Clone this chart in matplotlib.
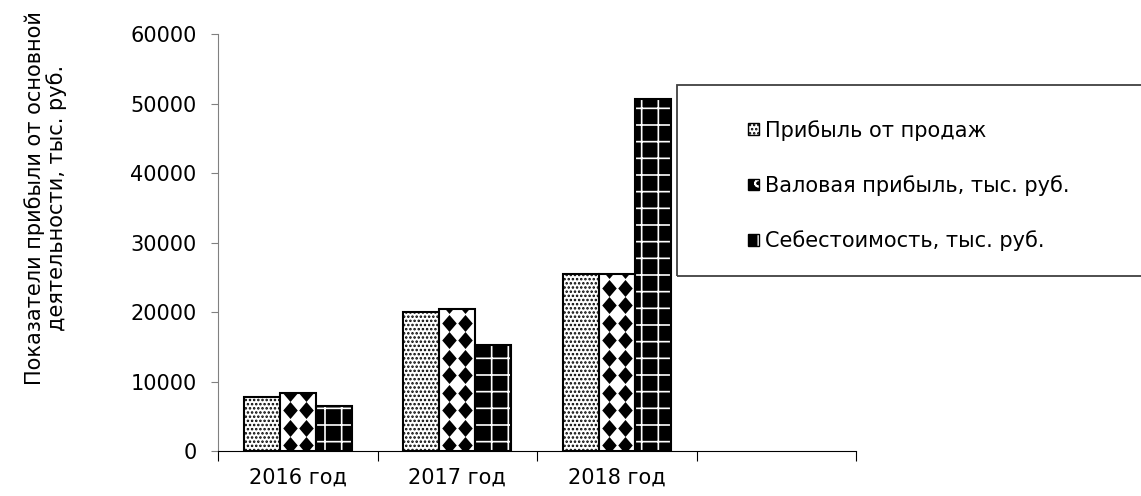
import numpy as np
import matplotlib
matplotlib.use('Agg')
import matplotlib.pyplot as plt
from matplotlib.patches import Rectangle
from matplotlib.legend_handler import HandlerTuple

plt.rcParams['font.family'] = ['DejaVu Sans']
plt.rcParams['hatch.linewidth'] = 1.2

# categories (the fourth slot stays empty, as on the original sheet)
categories = ['2016 год', '2017 год', '2018 год', '']
sales_profit = [7800, 20000, 25500]      # Прибыль от продаж
gross_profit = [8400, 20500, 25500]      # Валовая прибыль
cost_price = [6500, 15300, 50700]        # Себестоимость
series_names = ['Прибыль от продаж',
                'Валовая прибыль, тыс. руб.',
                'Себестоимость, тыс. руб.']

W, H = 1141, 496
fs = 15
fig = plt.figure(figsize=(W / 100, H / 100), dpi=100)
ax = fig.add_axes([218 / W, 45 / H, 638 / W, 416.7 / H])

x = np.arange(len(sales_profit))
w = 0.225

ax.set_xlim(-0.5, len(categories) - 0.5)
ax.set_ylim(0, 60000)

# series 1: white with fine dots
ax.bar(x - w, sales_profit, w, color='white', edgecolor='black',
       hatch='....', linewidth=1.5, zorder=2)

# series 2: white with black diamonds, outline drawn on top
bars2 = ax.bar(x, gross_profit, w, color='white', edgecolor='black',
               linewidth=0, zorder=2)
ax.bar(x, gross_profit, w, fill=False, edgecolor='black', linewidth=1.5,
       zorder=3)

# series 3: black with a white grid
ax.bar(x + w, cost_price, w, color='black', edgecolor='white',
       hatch='+', linewidth=0, zorder=2)
ax.bar(x + w, cost_price, w, fill=False, edgecolor='black', linewidth=1.5,
       zorder=3)

# diamond pattern for series 2, laid out in pixels and clipped to each bar
diamond = [(0, -1.17), (1, 0), (0, 1.17), (-1, 0), (0, -1.17)]
inv = ax.transData.inverted()
for b in bars2:
    (px0, py0), (px1, py1) = ax.transData.transform(
        [[b.get_x(), 0], [b.get_x() + b.get_width(), b.get_height()]])
    cx = (px0 + px1) / 2
    cols = np.array([cx - 7.75, cx + 7.75])
    rows = np.arange(py0 + 6, py1 + 10, 17.5)
    gx, gy = np.meshgrid(cols, rows)
    pts = inv.transform(np.column_stack([gx.ravel(), gy.ravel()]))
    sc = ax.scatter(pts[:, 0], pts[:, 1], s=150, marker=diamond,
                    color='black', linewidths=0, zorder=2.5)
    sc.set_clip_path(b)

# axes cosmetics
ax.spines['top'].set_visible(False)
ax.spines['right'].set_visible(False)
ax.spines['left'].set_color('#808080')
ax.spines['bottom'].set_color('black')

ax.set_yticks(np.arange(0, 60001, 10000))
ax.set_yticklabels([str(v) for v in range(0, 60001, 10000)])
ax.tick_params(axis='y', length=5, color='#808080', labelsize=fs, pad=10.5)

ax.set_xticks(np.arange(-0.5, len(categories), 1.0))
ax.set_xticklabels([])
ax.set_xticks(np.arange(len(categories)), minor=True)
ax.set_xticklabels(categories, minor=True)
ax.tick_params(axis='x', which='major', length=7, color='black')
ax.tick_params(axis='x', which='minor', length=0, labelsize=fs, pad=12)

fig.text(45.5 / W, 1 - 198 / H,
         'Показатели прибыли от основной\nдеятельности, тыс. руб.',
         rotation=90, ha='center', va='center', multialignment='center',
         fontsize=fs, linespacing=1.05)

# legend box runs off the right edge of the figure
fig.patches.append(Rectangle((677 / W, 1 - 276 / H), (W - 670) / W,
                             191 / H, transform=fig.transFigure,
                             fill=False, edgecolor='#404040',
                             linewidth=1.3))

h1 = Rectangle((0, 0), 1, 1, facecolor='white', edgecolor='black',
               hatch='....', linewidth=1)
h2 = (Rectangle((0, 0), 1, 1, facecolor='black', edgecolor='white',
                hatch='o', linewidth=0),
      Rectangle((0, 0), 1, 1, fill=False, edgecolor='black', linewidth=1))
h3 = (Rectangle((0, 0), 1, 1, facecolor='black', edgecolor='white',
                hatch='|', linewidth=0),
      Rectangle((0, 0), 1, 1, fill=False, edgecolor='black', linewidth=1))
fig.legend([h1, h2, h3], series_names,
           handler_map={tuple: HandlerTuple(ndivide=1)},
           loc='center left', bbox_to_anchor=(748 / W, 1 - 185.5 / H),
           bbox_transform=fig.transFigure, frameon=False, fontsize=fs,
           borderpad=0, borderaxespad=0, handlelength=0.55,
           handleheight=0.5, handletextpad=0.25, labelspacing=1.65)

fig.savefig('out.png', dpi=100)
